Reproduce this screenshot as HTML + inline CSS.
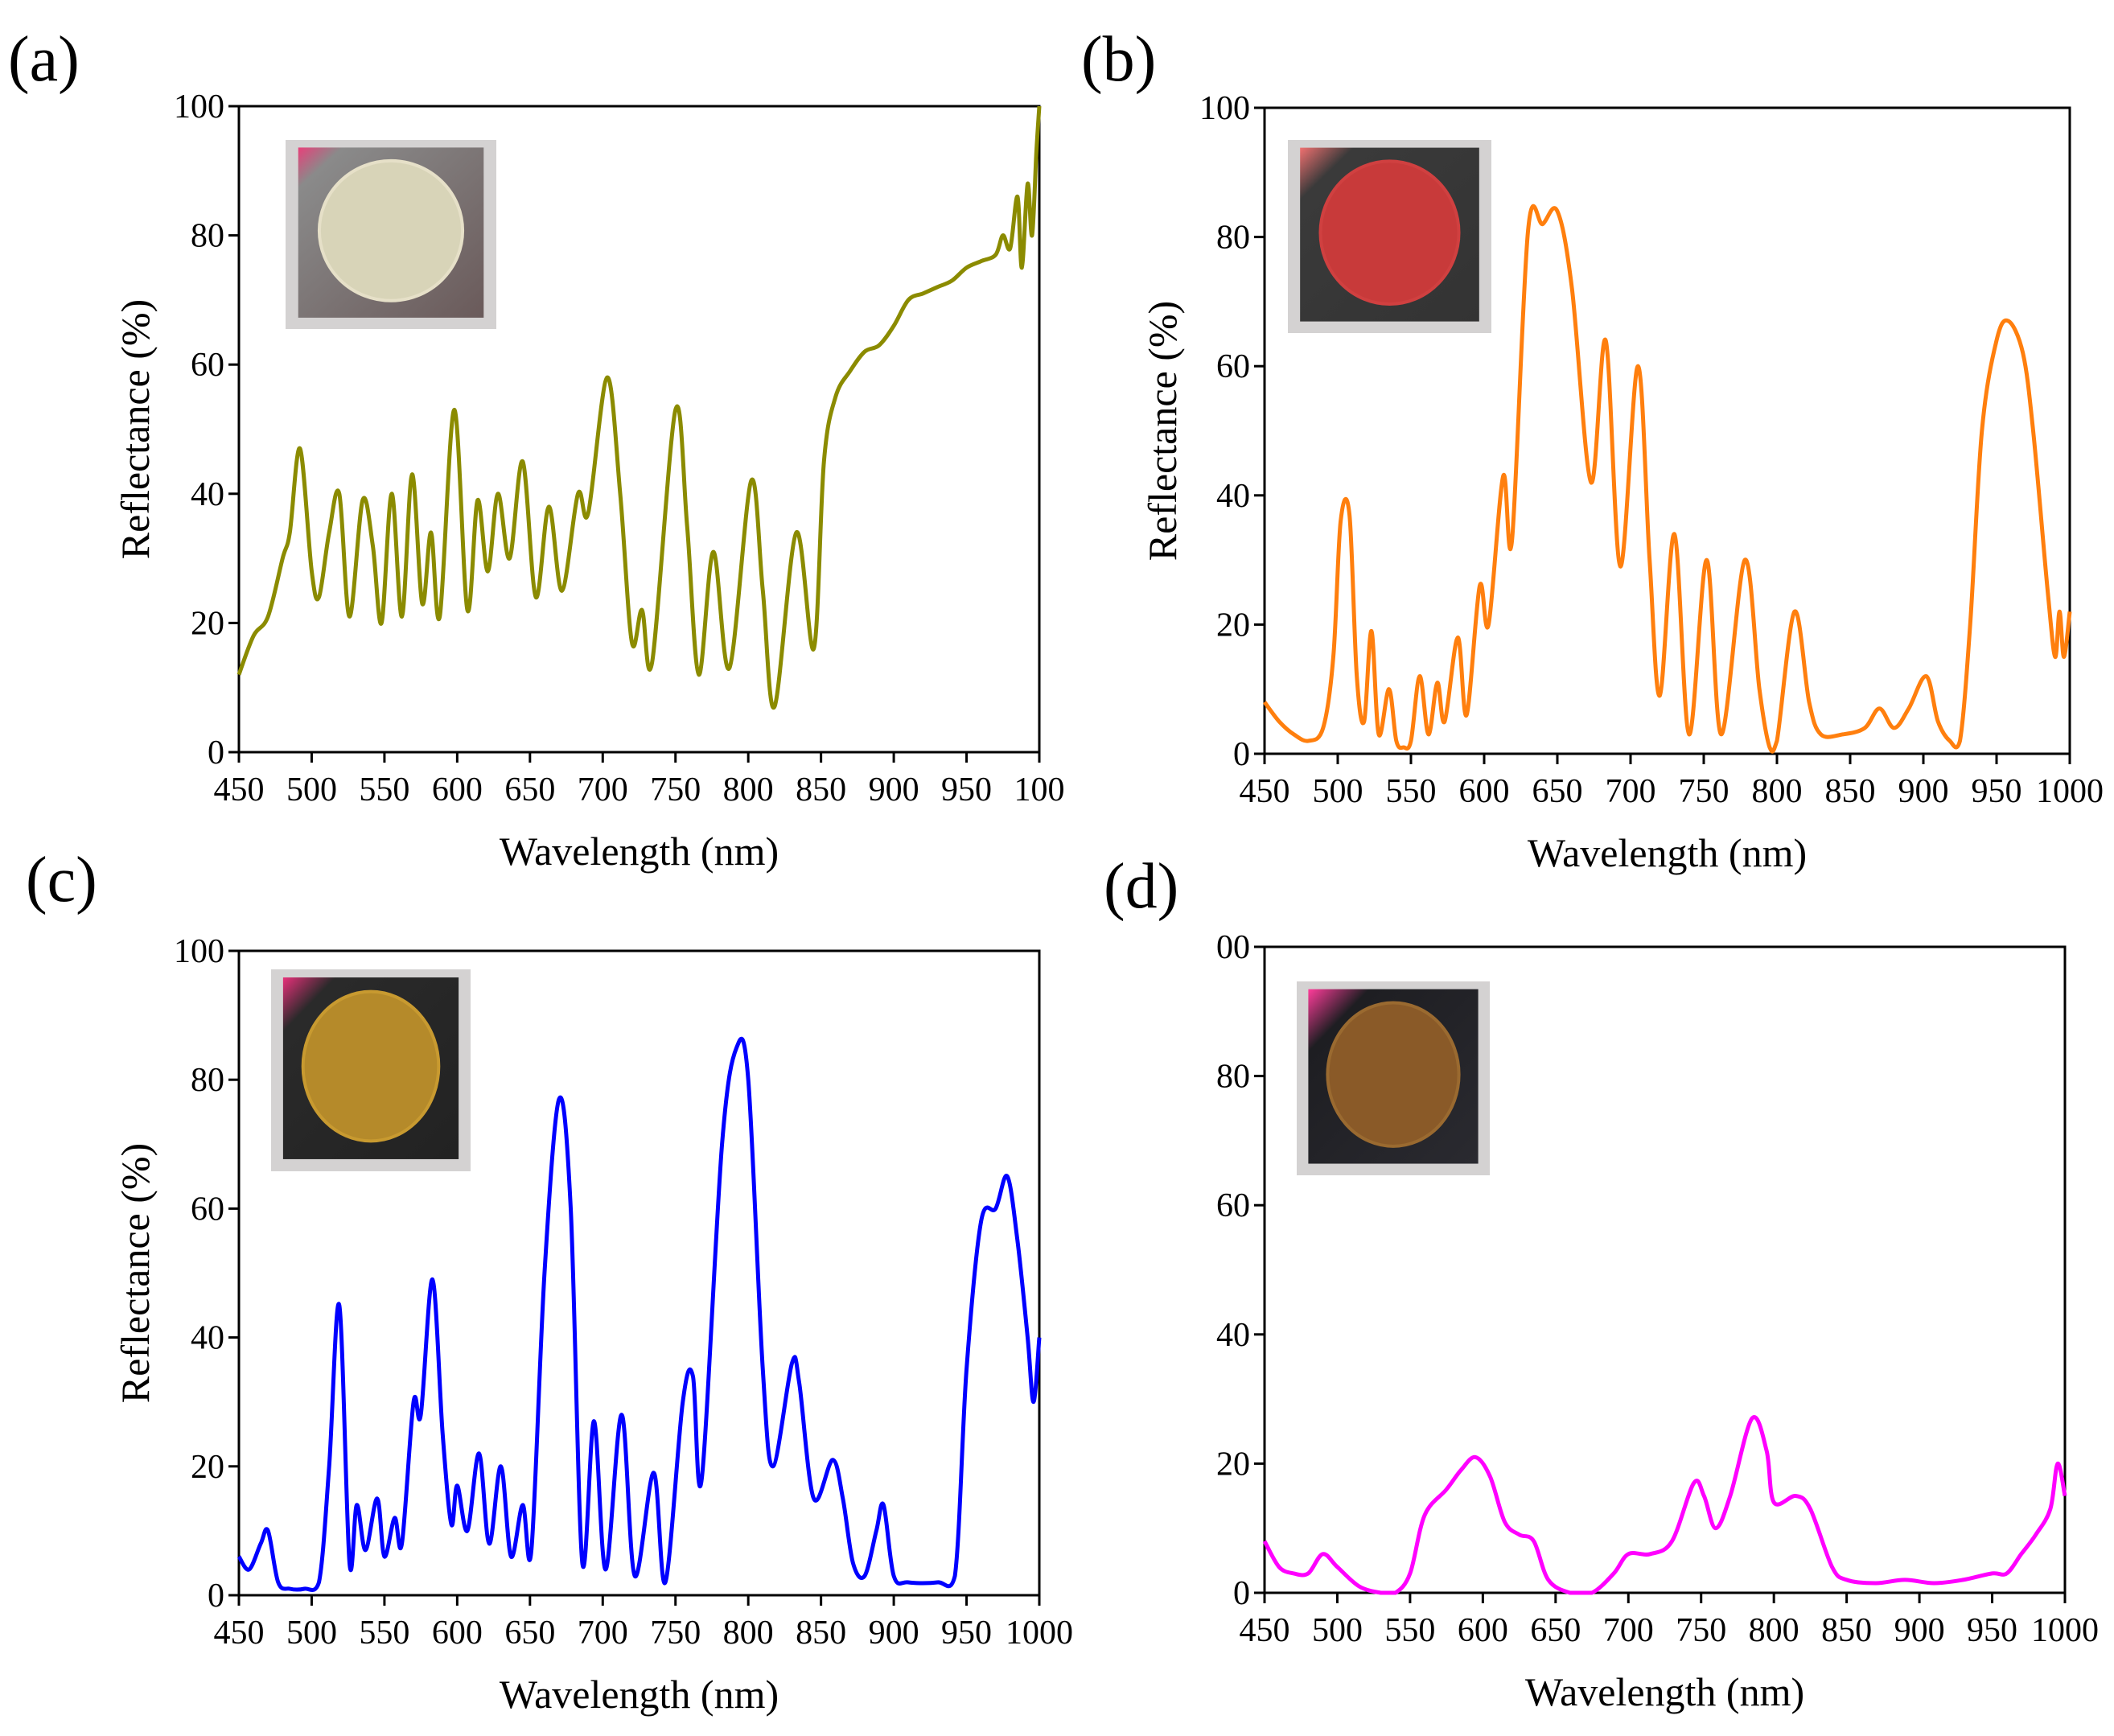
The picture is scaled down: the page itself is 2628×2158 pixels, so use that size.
<!DOCTYPE html>
<html><head><meta charset="utf-8"><style>
html,body{margin:0;padding:0;background:#fff;}
svg{display:block;}
text{font-family:"Liberation Serif","Times New Roman","Noto Serif CJK SC",serif;}
</style></head><body>
<svg id="fig" width="2628" height="2158" viewBox="0 0 2628 2158" xmlns="http://www.w3.org/2000/svg">
<defs>
<linearGradient id="gA" x1="0" y1="0" x2="1" y2="1"><stop offset="0" stop-color="#e8407a"/><stop offset="0.12" stop-color="#8a8a8a"/><stop offset="1" stop-color="#6a5a5a"/></linearGradient>
<linearGradient id="gB" x1="0" y1="0" x2="1" y2="1"><stop offset="0" stop-color="#f07070"/><stop offset="0.15" stop-color="#3a3a3a"/><stop offset="1" stop-color="#333"/></linearGradient>
<linearGradient id="gC" x1="0" y1="0" x2="1" y2="1"><stop offset="0" stop-color="#e8307a"/><stop offset="0.15" stop-color="#2a2a2a"/><stop offset="1" stop-color="#222"/></linearGradient>
<linearGradient id="gD" x1="0" y1="0" x2="1" y2="1"><stop offset="0" stop-color="#ff3c9a"/><stop offset="0.18" stop-color="#1e1e22"/><stop offset="1" stop-color="#2a2a30"/></linearGradient>
</defs>
</svg>
<script>
// ---- data ----
const xTicks = [450,500,550,600,650,700,750,800,850,900,950,1000];
const yTicks = [0,20,40,60,80,100];
const wlA = [450,460,470,480,485,492,500,505,512,519,526,535,542,548,555,562,569,576,582,588,598,607,614,621,628,636,645,654,663,672,683,690,703,712,720,727,734,750,758,766,776,787,802,810,818,833,845,852,860,870,880,890,900,910,920,930,940,950,960,970,975,980,985,988,992,995,998,1000];
const rA = [12,18,21,30,34,47,28,24,34,40,21,39,32,20,40,21,43,23,34,21,53,22,39,28,40,30,45,24,38,25,40,37,58,40,17,22,14,53,35,12,31,13,42,25,7,34,16,45,55,59,62,63,66,70,71,72,73,75,76,77,80,78,86,75,88,80,93,100];
const wlB = [450,460,470,480,490,497,502,508,513,518,523,528,535,540,545,550,556,562,568,573,582,588,597,603,613,619,630,640,650,660,673,683,693,705,713,720,730,740,752,762,778,788,795,800,812,822,830,845,860,870,880,890,902,910,918,925,932,940,950,958,968,975,985,990,993,996,1000];
const rB = [8,5,3,2,4,15,36,37,12,5,19,3,10,2,1,2,12,3,11,5,18,6,26,20,43,33,81,82,84,72,42,64,29,60,30,9,34,3,30,3,30,10,1,2,22,8,3,3,4,7,4,7,12,5,2,2,20,50,64,67,62,50,25,15,22,15,22];
const wlC = [450,457,465,470,477,485,495,505,512,519,526,531,537,545,550,557,562,570,575,583,590,596,600,607,615,622,630,637,645,651,660,670,678,686,694,702,713,722,735,743,755,762,768,782,792,800,810,817,830,835,845,858,865,872,880,888,893,900,910,930,942,950,960,970,978,985,992,996,1000];
const rC = [6,4,8,10,2,1,1,2,20,45,5,14,7,15,6,12,8,30,28,49,25,11,17,10,22,8,20,6,14,7,50,77,60,5,27,4,28,3,19,2,30,34,18,70,85,80,35,20,36,33,15,21,15,5,3,10,14,3,2,2,3,35,58,60,65,55,40,30,40];
const wlD = [450,460,470,480,490,500,515,530,540,550,560,575,585,595,605,615,625,635,645,660,675,690,700,715,730,745,752,760,770,785,795,800,815,825,840,850,870,890,910,930,950,960,970,980,990,995,1000];
const rD = [8,4,3,3,6,4,1,0,0,3,12,16,19,21,18,11,9,8,2,0,0,3,6,6,8,17,15,10,15,27,22,14,15,13,4,2,1.5,2,1.5,2,3,3,6,9,13,20,15];

const panels = [
 {id:'a',x0:297,x1:1292,y0:132,y1:935,wl:wlA,r:rA,color:'#8b8b00',label:'(a)',lx:10,ly:100,ytitle:true,ytx:168,lastX:'100',topY:'100',ins:[355,174,262,235,'gA','#d8d4b8','#e6e0c8']},
 {id:'b',x0:1572,x1:2573,y0:134,y1:937,wl:wlB,r:rB,color:'#ff7f0e',label:'(b)',lx:1344,ly:100,ytitle:true,ytx:1445,lastX:'1000',topY:'100',ins:[1601,174,253,240,'gB','#c83a3a','#d04040']},
 {id:'c',x0:297,x1:1292,y0:1182,y1:1983,wl:wlC,r:rC,color:'#0000ff',label:'(c)',lx:32,ly:1120,ytitle:true,ytx:168,lastX:'1000',topY:'100',ins:[337,1205,248,251,'gC','#b58a2a','#c89a30']},
 {id:'d',x0:1572,x1:2567,y0:1177,y1:1980,wl:wlD,r:rD,color:'#ff00ff',label:'(d)',lx:1372,ly:1128,ytitle:false,ytx:0,lastX:'1000',topY:'00',ins:[1612,1220,240,241,'gD','#8a5a28','#9a6a30']}
];
const NS='http://www.w3.org/2000/svg';
const svg=document.getElementById('fig');
function mk(tag,attrs,parent){const e=document.createElementNS(NS,tag);for(const k in attrs)e.setAttribute(k,attrs[k]);if(tag==='text')e.style.fontFamily='"Liberation Serif","Times New Roman","Noto Serif CJK SC",serif';(parent||svg).appendChild(e);return e;}
function smoothPath(pts,ymin,ymax){
 const cl=v=>Math.max(ymin,Math.min(ymax,v));
 let d='M'+pts[0][0].toFixed(1)+','+pts[0][1].toFixed(1);
 for(let i=0;i<pts.length-1;i++){
  const p0=pts[i-1]||pts[i],p1=pts[i],p2=pts[i+1],p3=pts[i+2]||p2;
  const c1x=p1[0]+(p2[0]-p0[0])/6,c1y=cl(p1[1]+(p2[1]-p0[1])/6);
  const c2x=p2[0]-(p3[0]-p1[0])/6,c2y=cl(p2[1]-(p3[1]-p1[1])/6);
  d+=' C'+c1x.toFixed(1)+','+c1y.toFixed(1)+' '+c2x.toFixed(1)+','+c2y.toFixed(1)+' '+p2[0].toFixed(1)+','+p2[1].toFixed(1);
 }
 return d;
}
panels.forEach(p=>{
 const g=mk('g',{});
 
 
 const sx=v=>p.x0+(v-450)/(1000-450)*(p.x1-p.x0);
 const sy=v=>p.y1-(v/100)*(p.y1-p.y0);
 const [ix,iy,iw,ih,grad,c1,c2]=p.ins;
 const ig=mk('g',{},g);
 
 
 mk('rect',{x:ix,y:iy,width:iw,height:ih,fill:'#d4d2d2'},ig);
 mk('rect',{x:ix+iw*0.06,y:iy+ih*0.04,width:iw*0.88,height:ih*0.9,fill:'url(#'+grad+')'},ig);
 mk('ellipse',{cx:ix+iw*0.5,cy:iy+ih*0.48,rx:iw*0.34,ry:ih*0.37,fill:c1,stroke:c2,'stroke-width':4},ig);
 const fr=mk('rect',{x:p.x0,y:p.y0,width:p.x1-p.x0,height:p.y1-p.y0,fill:'none',stroke:'#000','stroke-width':3},g);
 
 
 xTicks.forEach((t,i)=>{
  const x=sx(t);
  mk('line',{x1:x,y1:p.y1,x2:x,y2:p.y1+13,stroke:'#000','stroke-width':3},g);
  const tx=mk('text',{x:x,y:p.y1+60,'font-size':42,'text-anchor':'middle',fill:'#000'},g);
  
  
  tx.textContent=(i===xTicks.length-1)?p.lastX:String(t);
 });
 yTicks.forEach((t,i)=>{
  const y=sy(t);
  mk('line',{x1:p.x0-13,y1:y,x2:p.x0,y2:y,stroke:'#000','stroke-width':3},g);
  const ty=mk('text',{x:p.x0-18,y:y+14,'font-size':42,'text-anchor':'end',fill:'#000'},g);
  
  
  ty.textContent=(i===yTicks.length-1)?p.topY:String(t);
 });
 const xt=mk('text',{x:(p.x0+p.x1)/2,y:p.y1+140,'font-size':50,'text-anchor':'middle',fill:'#000'},g);
 
 
 xt.textContent='Wavelength (nm)';
 if(p.ytitle){
  const yc=(p.y0+p.y1)/2;
  const yt=mk('text',{x:p.ytx+17,y:yc,'font-size':50,'text-anchor':'middle',fill:'#000',transform:'rotate(-90 '+(p.ytx+17)+' '+yc+')'},g);
  
  
  yt.textContent='Reflectance (%)';
 }
 const lb=mk('text',{x:p.lx,y:p.ly,'font-size':80,fill:'#000'},g);
 
 
 lb.textContent=p.label;
 const pts=p.wl.map((w,i)=>[sx(w),sy(p.r[i])]);
 const path=mk('path',{d:smoothPath(pts,p.y0,p.y1),fill:'none',stroke:p.color,'stroke-width':5,'stroke-linejoin':'round'},g);
 
 
});
</script>
</body></html>
